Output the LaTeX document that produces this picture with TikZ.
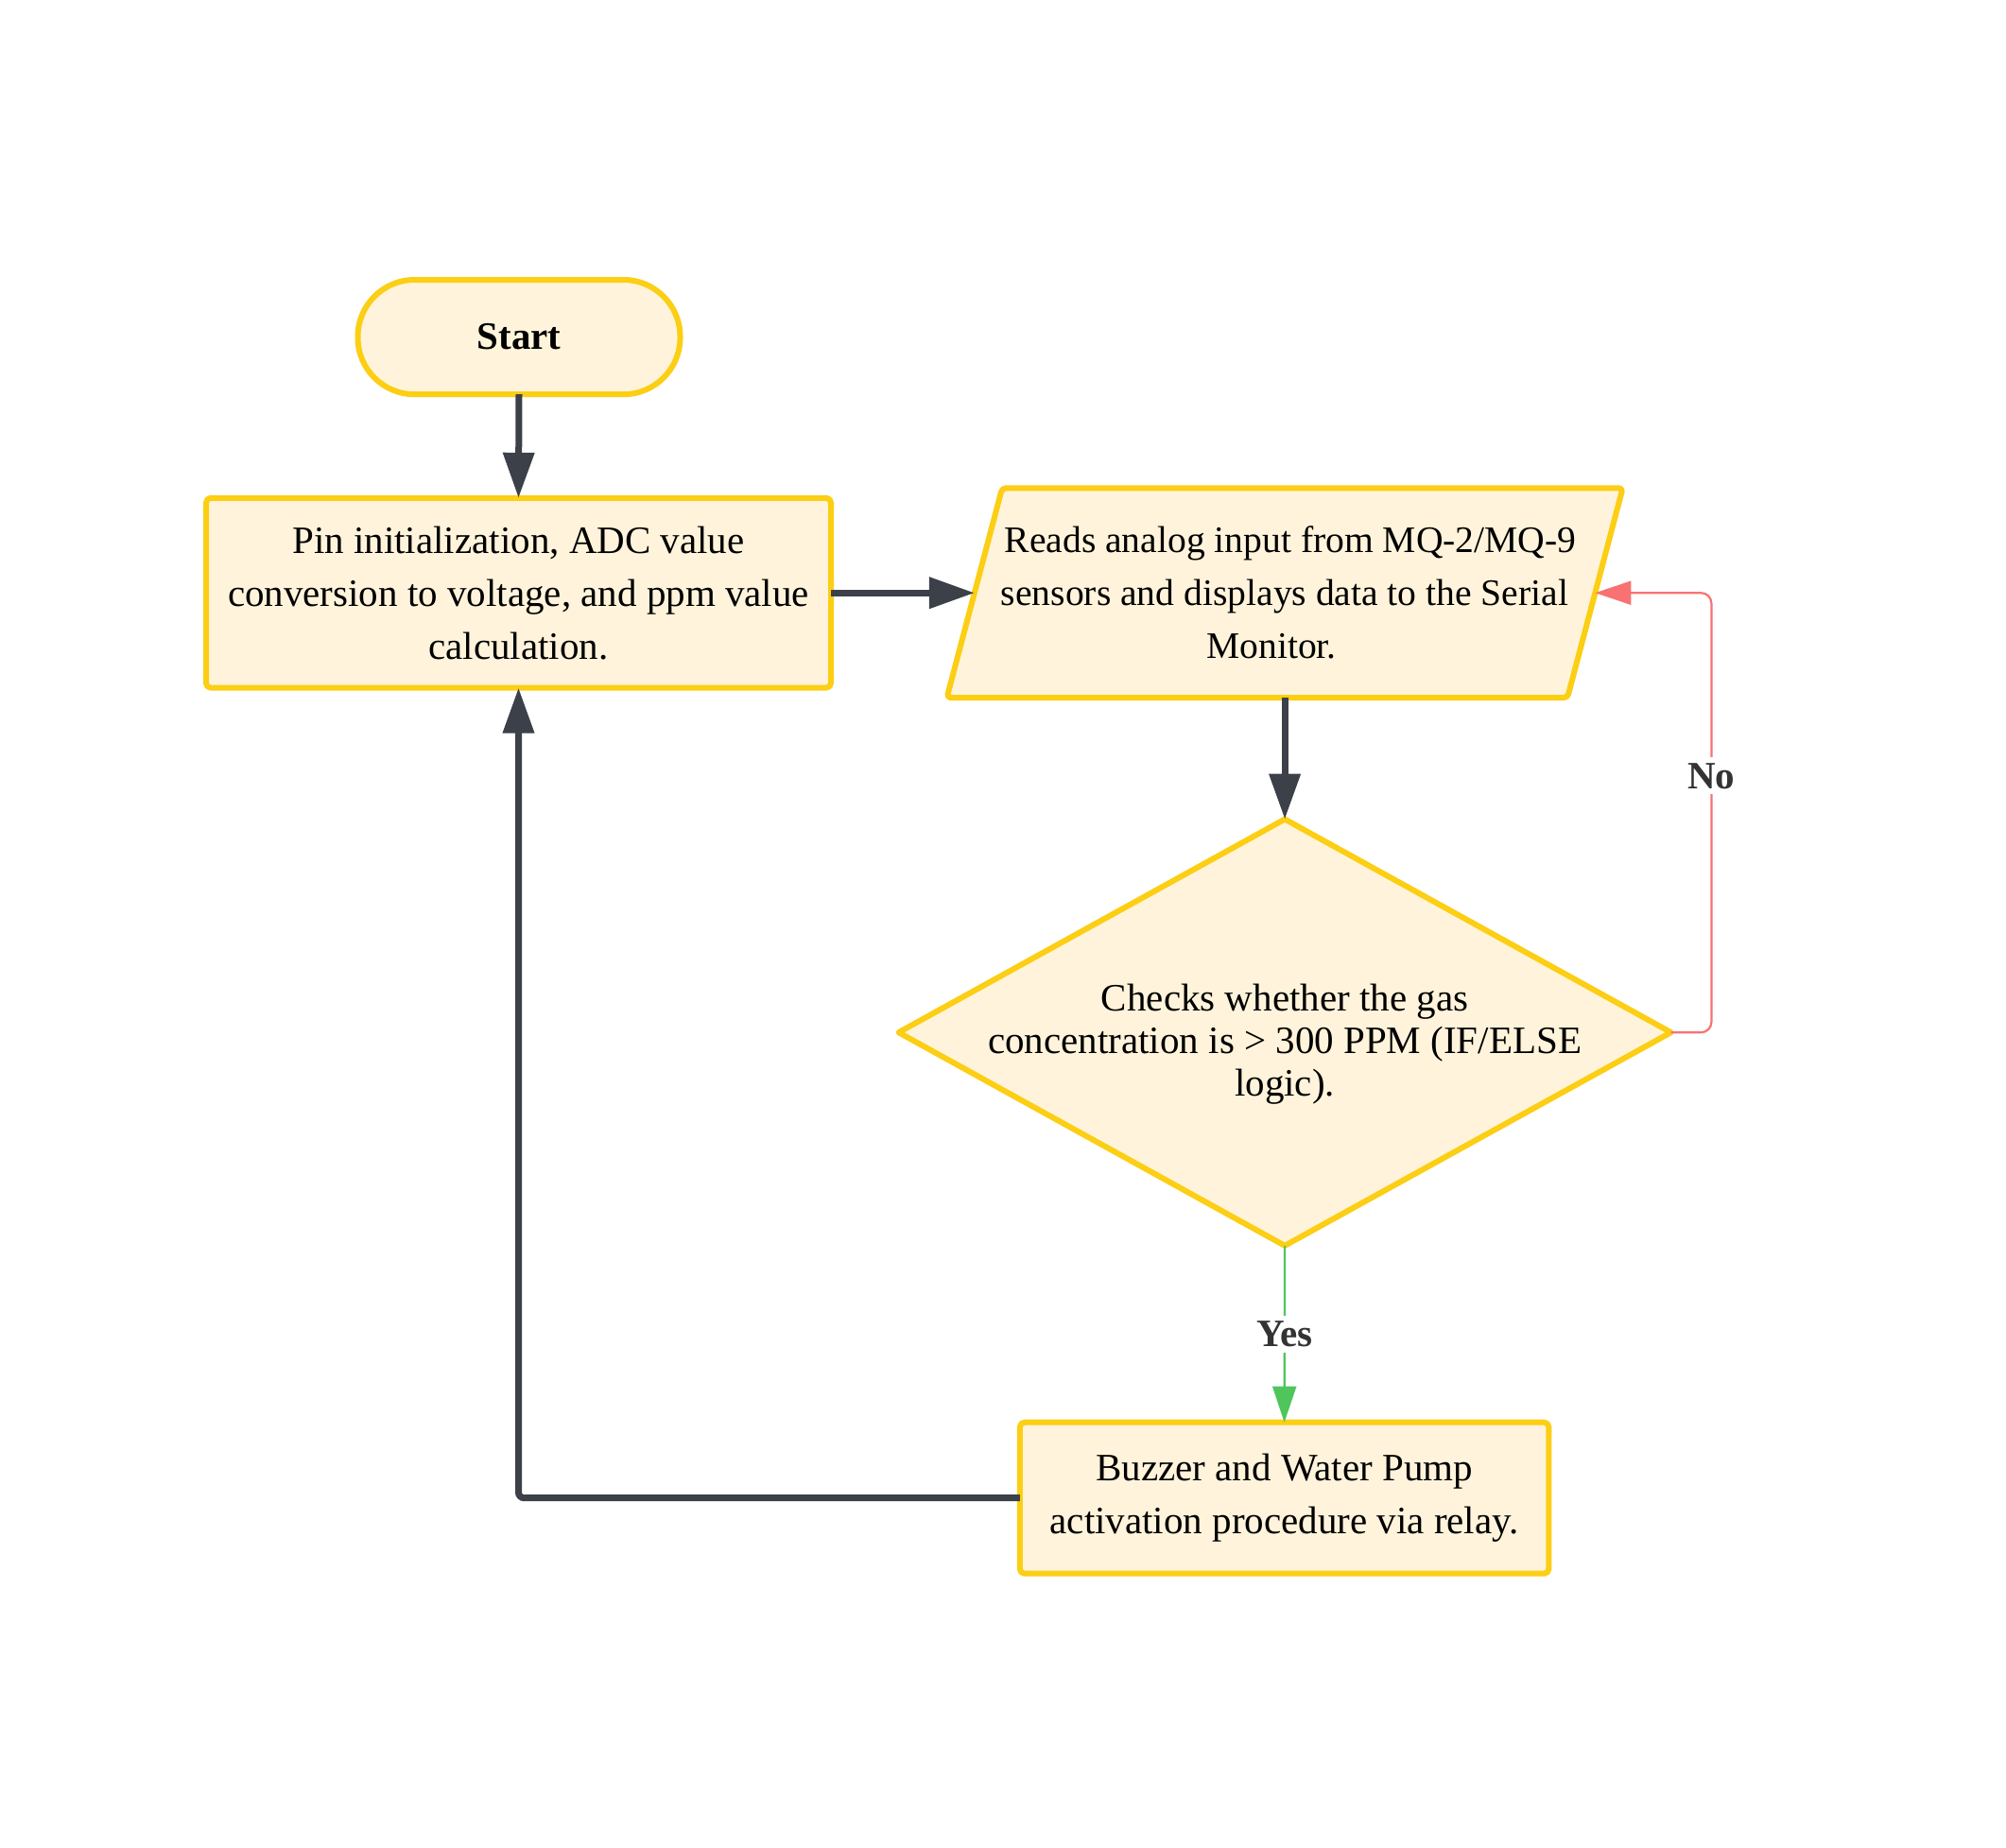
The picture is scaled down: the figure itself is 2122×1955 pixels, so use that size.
\documentclass[tikz,border=0pt]{standalone}
\usepackage{fontspec}
\setmainfont{Liberation Serif}
\usetikzlibrary{shapes.geometric,arrows.meta}
\definecolor{boxfill}{HTML}{FFF4DB}
\definecolor{boxline}{HTML}{FCCE14}
\definecolor{darkline}{HTML}{3B4049}
\definecolor{noline}{HTML}{F87272}
\definecolor{yesline}{HTML}{50C55C}
\definecolor{lbltext}{HTML}{333333}
\tikzset{
  boxstyle/.style={draw=boxline, fill=boxfill, line width=3pt, line join=round},
  flowbox/.style={boxstyle, inner sep=0pt, outer sep=0pt, align=center,
    font=\fontsize{20.5pt}{28pt}\selectfont},
  flowtext/.style={inner sep=0pt, align=center, font=\fontsize{20.5pt}{22.5pt}\selectfont},
  darkarrow/.style={draw=darkline, line width=3.5pt, -{Triangle[length=24pt,width=16pt]}},
  thinarrow/.style={line width=1.1pt, -{Triangle[length=19pt,width=12.5pt]}},
  lbl/.style={fill=white, inner sep=3pt, text=lbltext, font=\fontsize{20.5pt}{24pt}\selectfont\bfseries}
}
\begin{document}
\begin{tikzpicture}[x=0.5pt,y=-0.5pt]
\useasboundingbox[fill=white] (0,0) rectangle (2122,1955);

\node[flowbox, rounded corners=30pt, minimum width=170.5pt, minimum height=60.6pt,
      font=\fontsize{20.5pt}{28pt}\selectfont\bfseries] (start) at (549,356.6) {Start};

\node[flowbox, rounded corners=2.5pt, minimum width=330.5pt, minimum height=100.4pt] (init) at (548.5,627.2)
  {Pin initialization, ADC value\\conversion to voltage, and ppm value\\calculation.};

% parallelogram (input/output)
\coordinate (readc) at (1359.1,627.2);
\draw[boxstyle, rounded corners=2pt, shift={(readc)}]
  (-357.5,110.9) -- (-299,-110.9) -- (357.5,-110.9) -- (299,110.9) -- cycle;
\node[inner sep=0pt, align=center, font=\fontsize{19.8pt}{28pt}\selectfont] (read) at (readc)
  {\hspace*{6pt}Reads analog input from MQ-2/MQ-9\\sensors and displays data to the Serial\\Monitor.\hspace*{14pt}};
\coordinate (readL) at (1030.9,627.2);
\coordinate (readR) at (1687.4,627.2);
\coordinate (readS) at (1359.1,738.1);

\node[flowbox, diamond, aspect=1.81, minimum width=408.5pt, minimum height=225.6pt] (check) at (1359.1,1092.2) {};
\node[flowtext] (checktxt) at (1359.1,1105.1)
  {Checks whether the gas\\concentration is > 300 PPM (IF/ELSE\\logic).};

\node[flowbox, rounded corners=2.5pt, minimum width=279.8pt, minimum height=80pt] (buzz) at (1358.6,1584.7)
  {Buzzer and Water Pump\\activation procedure via relay.};

\coordinate (nocol) at (1810.4,627.2);

\draw[darkarrow] (start.south) -- (init.north);
\draw[darkarrow] (init.east) -- (readL);
\draw[darkarrow] (readS) -- (check.north);
\draw[darkarrow, rounded corners=3pt] (buzz.west) -| (init.south);

\draw[thinarrow, draw=noline, rounded corners=5.5pt, -{Triangle[length=19pt,width=12.5pt,fill=noline]}]
  (check.east) -- (check.east -| nocol) -- (nocol) -- (readR);
\node[lbl] (nolbl) at (1810.4,820.8) {No};

\draw[thinarrow, draw=yesline] (check.south) -- node[lbl] (yeslbl) {Yes} (buzz.north);
\end{tikzpicture}
\end{document}
